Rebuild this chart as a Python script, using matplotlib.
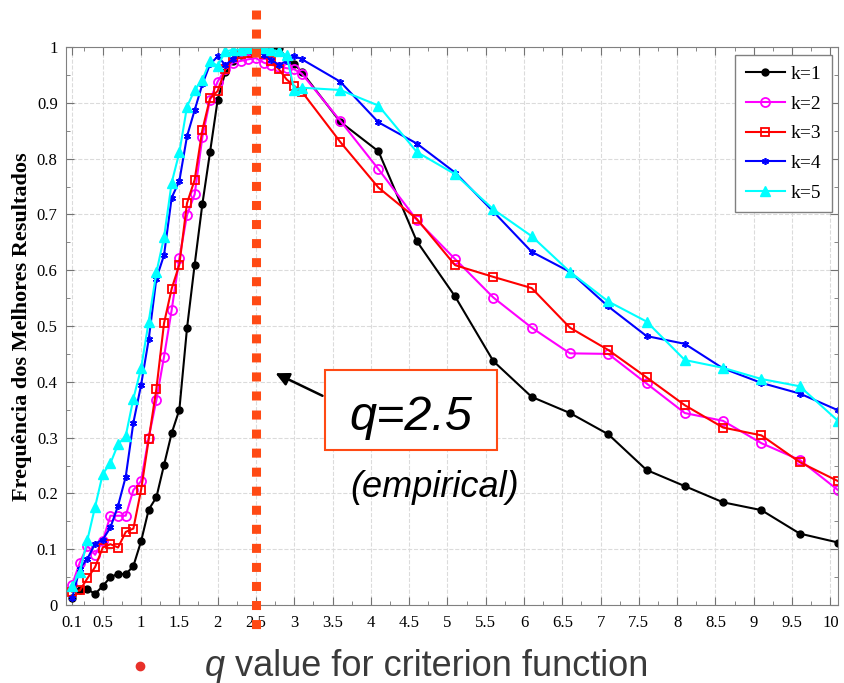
import matplotlib
matplotlib.use('Agg')
import matplotlib.pyplot as plt
from matplotlib.ticker import MultipleLocator
from matplotlib.patches import Rectangle

# valores de q (passo 0.1 ate 3.1, depois passo 0.5)
q = [0.1, 0.2, 0.3, 0.4, 0.5, 0.6, 0.7, 0.8, 0.9, 1.0,
     1.1, 1.2, 1.3, 1.4, 1.5, 1.6, 1.7, 1.8, 1.9, 2.0,
     2.1, 2.2, 2.3, 2.4, 2.5, 2.6, 2.7, 2.8, 2.9, 3.0, 3.1,
     3.6, 4.1, 4.6, 5.1, 5.6, 6.1, 6.6, 7.1, 7.6, 8.1, 8.6, 9.1, 9.6, 10.1]

k1 = [0.013, 0.026, 0.028, 0.020, 0.034, 0.050, 0.056, 0.055, 0.070, 0.114,
      0.171, 0.193, 0.251, 0.308, 0.350, 0.496, 0.610, 0.718, 0.811, 0.905,
      0.955, 0.975, 0.985, 0.990, 0.995, 1.000, 1.000, 0.998, 0.980, 0.970, 0.955,
      0.866, 0.813, 0.652, 0.553, 0.437, 0.373, 0.344, 0.306, 0.242, 0.213,
      0.184, 0.170, 0.128, 0.112]

k2 = [0.036, 0.076, 0.106, 0.090, 0.115, 0.160, 0.160, 0.160, 0.206, 0.222,
      0.300, 0.367, 0.445, 0.529, 0.621, 0.699, 0.736, 0.838, 0.905, 0.938,
      0.960, 0.972, 0.975, 0.978, 0.980, 0.972, 0.968, 0.965, 0.962, 0.960, 0.952,
      0.868, 0.781, 0.690, 0.620, 0.551, 0.497, 0.451, 0.450, 0.397, 0.344,
      0.330, 0.290, 0.260, 0.206]

k3 = [0.024, 0.026, 0.048, 0.068, 0.103, 0.109, 0.103, 0.131, 0.137, 0.206,
      0.297, 0.387, 0.505, 0.567, 0.610, 0.720, 0.762, 0.851, 0.908, 0.921,
      0.960, 0.982, 0.988, 0.990, 0.993, 0.988, 0.975, 0.960, 0.942, 0.930, 0.920,
      0.830, 0.748, 0.692, 0.609, 0.588, 0.568, 0.497, 0.457, 0.408, 0.358,
      0.318, 0.304, 0.256, 0.222]

k4 = [0.012, 0.065, 0.083, 0.110, 0.117, 0.139, 0.178, 0.230, 0.327, 0.394,
      0.476, 0.585, 0.627, 0.730, 0.760, 0.840, 0.887, 0.933, 0.969, 0.983,
      0.968, 0.978, 0.992, 0.995, 0.995, 0.986, 0.977, 0.968, 0.975, 0.984, 0.978,
      0.938, 0.865, 0.827, 0.775, 0.705, 0.633, 0.597, 0.535, 0.482, 0.468,
      0.424, 0.398, 0.379, 0.349]

k5 = [0.034, 0.059, 0.117, 0.176, 0.235, 0.254, 0.288, 0.303, 0.370, 0.424,
      0.508, 0.596, 0.659, 0.757, 0.811, 0.893, 0.923, 0.941, 0.975, 0.966,
      0.992, 0.995, 0.995, 0.998, 1.000, 0.998, 0.995, 0.992, 0.985, 0.923, 0.927,
      0.923, 0.895, 0.812, 0.772, 0.709, 0.661, 0.597, 0.544, 0.508, 0.439,
      0.425, 0.405, 0.392, 0.330]

xticks = [0.1, 0.5, 1, 1.5, 2, 2.5, 3, 3.5, 4, 4.5, 5, 5.5, 6, 6.5, 7, 7.5, 8, 8.5, 9, 9.5, 10]
xtick_labels = ['0.1', '0.5', '1', '1.5', '2', '2.5', '3', '3.5', '4', '4.5', '5',
                '5.5', '6', '6.5', '7', '7.5', '8', '8.5', '9', '9.5', '10']
yticks = [0, 0.1, 0.2, 0.3, 0.4, 0.5, 0.6, 0.7, 0.8, 0.9, 1]
ytick_labels = ['0', '0.1', '0.2', '0.3', '0.4', '0.5', '0.6', '0.7', '0.8', '0.9', '1']

q_emp = 2.5
laranja = '#ff4a14'
serif = 'Liberation Serif'

fig = plt.figure(figsize=(8.45, 6.83), dpi=100)
ax = fig.add_axes([66/845, 1-605/683, 772/845, 558/683])

ax.plot(q, k1, '-o', color='black', ms=5, lw=1.5, label='k=1')
ax.plot(q, k2, '-o', color='magenta', ms=6.5, mfc='none', mew=1.3, lw=1.5, label='k=2')
ax.plot(q, k3, '-s', color='red', ms=6, mfc='none', mew=1.3, lw=1.5, label='k=3')
ax.plot(q, k4, '-', marker=(6, 2, 0), color='blue', ms=5, mew=1.2, lw=1.5, label='k=4')
ax.plot(q, k5, '-^', color='cyan', ms=6.5, lw=1.5, label='k=5')

ax.set_xlim(0.02, 10.1)
ax.set_ylim(0, 1)
ax.set_xticks(xticks)
ax.set_xticklabels(xtick_labels, fontfamily=serif, fontsize=12)
ax.set_yticks(yticks)
ax.set_yticklabels(ytick_labels, fontfamily=serif, fontsize=12)
ax.xaxis.set_minor_locator(MultipleLocator(0.25))
ax.yaxis.set_minor_locator(MultipleLocator(0.05))
ax.tick_params(which='both', direction='in', top=True, right=True, color='0.45')
ax.tick_params(which='major', length=6)
ax.tick_params(which='minor', length=3)
ax.tick_params(axis='x', pad=7)
ax.tick_params(axis='y', pad=6)
ax.grid(True, which='major', ls='--', color='0.86', lw=0.8)
for s in ax.spines.values():
    s.set_color('0.5')

fig.text(22/845, 1-327/683, 'Frequência dos Melhores Resultados', rotation=90,
         ha='center', va='center', fontfamily=serif, fontweight='bold', fontsize=16)

ax.legend(loc='upper right', bbox_to_anchor=(0.992, 0.986), borderaxespad=0,
          prop={'family': serif, 'size': 14}, fancybox=False, edgecolor='0.5',
          framealpha=1, handlelength=2.0, labelspacing=0.62, borderpad=0.55,
          handletextpad=0.3)

# linha pontilhada em q=2.5
ax.plot([q_emp, q_emp], [1.066, -0.058], transform=ax.get_xaxis_transform(),
        clip_on=False, color=laranja, lw=6.5, dashes=(1, 1.11),
        dash_capstyle='butt', zorder=10)

# caixa q=2.5
fig.patches.append(Rectangle((325/845, 1-450/683), 172/845, 80/683,
                             transform=fig.transFigure, facecolor='white',
                             edgecolor=laranja, lw=1.5, zorder=5))
fig.text(411/845, 1-430/683, 'q=2.5', ha='center', va='baseline',
         fontsize=35, style='italic', fontfamily='Liberation Sans', zorder=6)
fig.text(435/845, 1-497/683, '(empirical)', ha='center', va='baseline',
         fontsize=26, style='italic', fontfamily='Liberation Sans')
ax.annotate('', xy=(273, 683-372), xytext=(325, 683-397), xycoords='figure pixels',
            textcoords='figure pixels',
            arrowprops=dict(arrowstyle='-|>', color='black', lw=1.8, mutation_scale=20))

# texto de baixo
ax.plot([140/845], [1-666/683], 'o', color='#e8302a', ms=6, transform=fig.transFigure,
        clip_on=False)
fig.text(205/845, 1-676/683, 'q', style='italic', fontsize=26,
         fontfamily='Liberation Sans', color='#3a3a3a', va='baseline')
fig.text(225/845, 1-676/683, ' value for criterion function', fontsize=26,
         fontfamily='Liberation Sans', color='#3a3a3a', va='baseline')

fig.savefig('out.png', dpi=100)
